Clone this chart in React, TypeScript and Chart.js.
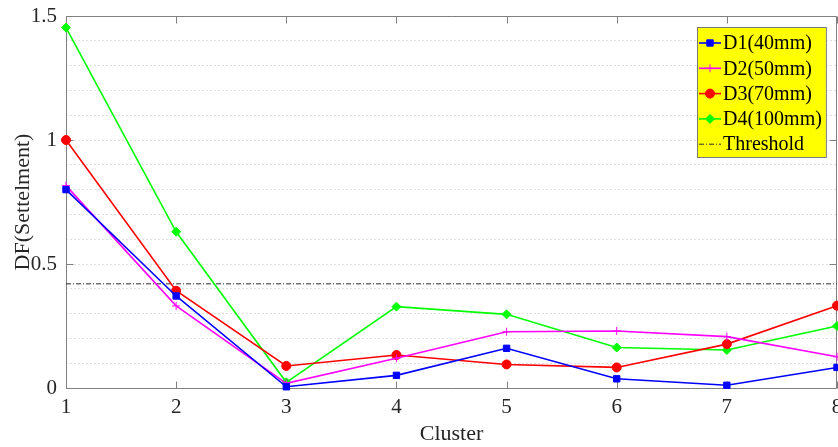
import React, { useEffect, useRef } from 'react';
import { Chart, registerables } from 'chart.js';
import { drawPoint } from 'chart.js/helpers';

Chart.register(...registerables);

// ---- data ----
const CLUSTERS = [1, 2, 3, 4, 5, 6, 7, 8];
const D1_40MM = [0.80, 0.371, 0.005, 0.051, 0.16, 0.037, 0.011, 0.083];
const D2_50MM = [0.816, 0.331, 0.019, 0.12, 0.227, 0.23, 0.207, 0.126];
const D3_70MM = [1.0, 0.392, 0.089, 0.133, 0.095, 0.083, 0.177, 0.332];
const D4_100MM = [1.453, 0.63, 0.023, 0.328, 0.297, 0.163, 0.153, 0.25];
const THRESHOLD = 0.42;
const Y_TICKS = [0, 0.5, 1, 1.5];
const SERIES_LABELS = ['D1(40mm)', 'D2(50mm)', 'D3(70mm)', 'D4(100mm)', 'Threshold'];
const X_TITLE = 'Cluster';
const Y_TITLE = 'DF(Settelment)';

const FONT = '"Liberation Serif", "Times New Roman", serif';

const toPoints = (vals: number[]) => CLUSTERS.map((c, i) => ({ x: c, y: vals[i] }));

const framePlugin = {
  id: 'frame',
  beforeDatasetsDraw(chart: any) {
    const { ctx, chartArea: a, scales } = chart;
    const x = scales.x;
    const y = scales.y;
    ctx.save();
    ctx.strokeStyle = '#808080';
    ctx.lineWidth = 1;
    const L = Math.round(a.left) + 0.5;
    const R = Math.round(a.right) - 0.5;
    const T = Math.round(a.top) + 0.5;
    const B = Math.round(a.bottom) + 0.5;
    ctx.beginPath();
    ctx.rect(L, T, R - L, B - T);
    const tl = 7;
    CLUSTERS.forEach((c) => {
      const px = Math.round(x.getPixelForValue(c)) + 0.5;
      ctx.moveTo(px, B);
      ctx.lineTo(px, B - tl);
      ctx.moveTo(px, T);
      ctx.lineTo(px, T + tl);
    });
    Y_TICKS.forEach((v) => {
      const py = Math.round(y.getPixelForValue(v)) + 0.5;
      ctx.moveTo(L, py);
      ctx.lineTo(L + tl, py);
      ctx.moveTo(R, py);
      ctx.lineTo(R - tl, py);
    });
    ctx.stroke();
    ctx.restore();
  },
};

const legendPlugin = {
  id: 'yellowLegend',
  afterDraw(chart: any) {
    const { ctx, chartArea: a } = chart;
    const datasets = chart.data.datasets;
    ctx.save();
    ctx.font = `20px ${FONT}`;
    let maxW = 0;
    datasets.forEach((d: any) => {
      maxW = Math.max(maxW, ctx.measureText(d.label).width);
    });
    const rowH = 25.3;
    const left = 697;
    const top = a.top + 11;
    const w = 26 + maxW + 4;
    const h = 130;
    ctx.fillStyle = '#ffff00';
    ctx.fillRect(left, top, w, h);
    ctx.strokeStyle = '#7a7a7a';
    ctx.lineWidth = 1;
    ctx.strokeRect(left + 0.5, top + 0.5, w, h);
    datasets.forEach((d: any, i: number) => {
      const cy = top + 16 + i * rowH;
      ctx.save();
      ctx.strokeStyle = d.borderColor;
      ctx.lineWidth = d.borderWidth;
      ctx.setLineDash(d.borderDash || []);
      ctx.beginPath();
      ctx.moveTo(left + 2, cy);
      ctx.lineTo(left + 24, cy);
      ctx.stroke();
      ctx.restore();
      if (d.pointRadius > 0) {
        ctx.save();
        ctx.fillStyle = d.pointBackgroundColor;
        ctx.strokeStyle = d.pointBorderColor;
        ctx.lineWidth = 1;
        drawPoint(ctx, { pointStyle: d.pointStyle, radius: d.pointRadius, rotation: 0, borderWidth: 1 }, left + 13, cy);
        ctx.restore();
      }
      ctx.fillStyle = '#000000';
      ctx.textBaseline = 'middle';
      ctx.textAlign = 'left';
      ctx.fillText(d.label, left + 26, cy + 1);
    });
    ctx.restore();
  },
};

function series(label: string, vals: number[], color: string, style: string, radius: number) {
  return {
    label,
    data: toPoints(vals),
    borderColor: color,
    backgroundColor: color,
    borderWidth: 1.6,
    pointStyle: style,
    pointRadius: radius,
    pointHoverRadius: radius,
    pointBackgroundColor: color,
    pointBorderColor: color,
    pointBorderWidth: 1,
    tension: 0,
    clip: false,
  };
}

export default function App() {
  const ref = useRef<HTMLCanvasElement | null>(null);
  useEffect(() => {
    document.body.style.margin = '0';
    const canvas = ref.current;
    if (!canvas) return;
    const chart = new Chart(canvas, {
      type: 'line',
      data: {
        datasets: [
          series(SERIES_LABELS[0], D1_40MM, '#0000ff', 'rect', 4.5),
          series(SERIES_LABELS[1], D2_50MM, '#ff00ff', 'cross', 4),
          series(SERIES_LABELS[2], D3_70MM, '#ff0000', 'circle', 4.5),
          series(SERIES_LABELS[3], D4_100MM, '#00ff00', 'rectRot', 4.5),
          {
            label: SERIES_LABELS[4],
            data: CLUSTERS.map((c) => ({ x: c, y: THRESHOLD })),
            borderColor: '#2a2a2a',
            backgroundColor: '#2a2a2a',
            borderWidth: 1,
            borderDash: [5, 2, 1, 2],
            pointRadius: 0,
            pointHoverRadius: 0,
            tension: 0,
          },
        ] as any,
      },
      options: {
        animation: false,
        responsive: false,
        devicePixelRatio: 1,
        events: [],
        layout: { autoPadding: false, padding: { top: 16, right: 1, left: 0, bottom: 0 } },
        plugins: {
          legend: { display: false },
          tooltip: { enabled: false },
        },
        scales: {
          x: {
            type: 'linear',
            min: 1,
            max: 8,
            afterBuildTicks: (scale: any) => {
              scale.ticks = CLUSTERS.map((c) => ({ value: c }));
            },
            afterFit: (scale: any) => {
              scale.height = 59;
              scale.paddingLeft = 0;
              scale.paddingRight = 0;
            },
            grid: { display: false, drawTicks: false },
            border: { display: false },
            ticks: {
              padding: 7,
              color: '#262626',
              font: { family: FONT, size: 21 },
              autoSkip: false,
              maxRotation: 0,
              callback: (v: any) => String(v),
            },
            title: {
              display: true,
              text: X_TITLE,
              color: '#262626',
              font: { family: FONT, size: 22 },
              padding: { top: 0, bottom: 0 },
            },
          },
          y: {
            type: 'linear',
            min: 0,
            max: 1.5,
            ticks: {
              stepSize: 0.1,
              padding: 9,
              color: '#262626',
              font: { family: FONT, size: 21 },
              autoSkip: false,
              callback: (v: any) => {
                const hit = Y_TICKS.find((t) => Math.abs(t - Number(v)) < 1e-6);
                return hit === undefined ? '' : String(hit);
              },
            },
            afterFit: (scale: any) => {
              scale.width = 66;
              scale.paddingTop = 0;
              scale.paddingBottom = 0;
            },
            grid: { color: 'rgba(0,0,0,0.12)', drawTicks: false, lineWidth: 1 },
            border: { display: false, dash: [2, 2] },
            title: {
              display: true,
              text: Y_TITLE,
              color: '#262626',
              font: { family: FONT, size: 22 },
              padding: { top: 10, bottom: 0 },
            },
          },
        },
      } as any,
      plugins: [framePlugin, legendPlugin],
    });
    return () => chart.destroy();
  }, []);
  return (
    <div style={{ width: 838, height: 447 }}>
      <canvas ref={ref} width={838} height={447} style={{ display: 'block' }} />
    </div>
  );
}
